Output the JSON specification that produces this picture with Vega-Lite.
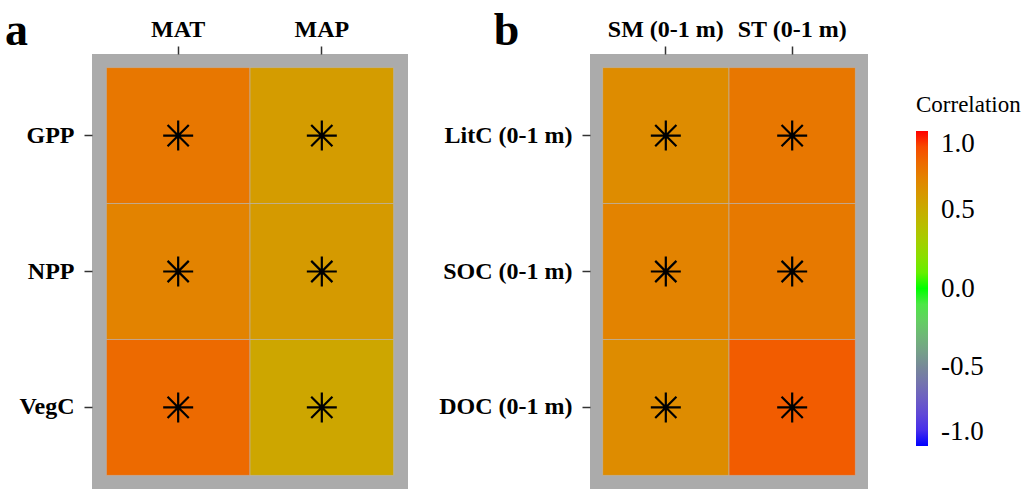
{
  "$schema": "https://vega.github.io/schema/vega-lite/v6.json",
  "background": "white",
  "padding": {"left": 4, "top": 8, "right": 5, "bottom": 0},
  "config": {
    "font": "Liberation Serif",
    "view": {"fill": "#ABABAB", "stroke": null},
    "concat": {"spacing": 30},
    "axis": {
      "labelFont": "Liberation Serif",
      "labelFontSize": 24,
      "labelFontWeight": "bold",
      "labelColor": "black",
      "tickColor": "#333333",
      "tickWidth": 1.5,
      "tickSize": 8,
      "domain": false,
      "grid": false,
      "labelAngle": 0
    },
    "legend": {"labelFont": "'Liberation Serif', 'DejaVu Serif', serif", "titleFont": "'Liberation Serif', 'DejaVu Serif', serif"},
    "title": {"font": "Liberation Serif", "fontSize": 46, "fontWeight": "bold", "color": "black", "anchor": "start"}
  },
  "datasets": {
    "a": [
      {"variable": "GPP", "driver": "MAT", "r": 0.75, "sig": "*"},
      {"variable": "GPP", "driver": "MAP", "r": 0.58, "sig": "*"},
      {"variable": "NPP", "driver": "MAT", "r": 0.70, "sig": "*"},
      {"variable": "NPP", "driver": "MAP", "r": 0.59, "sig": "*"},
      {"variable": "VegC", "driver": "MAT", "r": 0.80, "sig": "*"},
      {"variable": "VegC", "driver": "MAP", "r": 0.53, "sig": "*"}
    ],
    "b": [
      {"variable": "LitC (0-1 m)", "driver": "SM (0-1 m)", "r": 0.66, "sig": "*"},
      {"variable": "LitC (0-1 m)", "driver": "ST (0-1 m)", "r": 0.75, "sig": "*"},
      {"variable": "SOC (0-1 m)", "driver": "SM (0-1 m)", "r": 0.70, "sig": "*"},
      {"variable": "SOC (0-1 m)", "driver": "ST (0-1 m)", "r": 0.74, "sig": "*"},
      {"variable": "DOC (0-1 m)", "driver": "SM (0-1 m)", "r": 0.66, "sig": "*"},
      {"variable": "DOC (0-1 m)", "driver": "ST (0-1 m)", "r": 0.85, "sig": "*"}
    ]
  },
  "hconcat": [
    {
      "width": 316,
      "height": 435,
      "data": {"name": "a"},
      "title": {"text": "a", "dx": -14, "dy": 42},
      "encoding": {
        "x": {"field": "driver", "type": "nominal", "sort": ["MAT", "MAP"], "scale": {"paddingInner": 0, "paddingOuter": 0.1}, "axis": {"orient": "top", "title": null, "labelPadding": 5}},
        "y": {"field": "variable", "type": "nominal", "sort": ["GPP", "NPP", "VegC"], "scale": {"paddingInner": 0, "paddingOuter": 0.1}, "axis": {"title": null, "labelPadding": 10}}
      },
      "layer": [
        {
          "mark": {"type": "rect", "stroke": "#b8b8b8", "strokeWidth": 0.6},
          "encoding": {
            "color": {"field": "r", "type": "quantitative", "scale": {"domain": [-1, -0.5, 0, 1], "range": ["#0000ff", "#778899", "#00ff00", "#ff0000"], "interpolate": "lab"}, "legend": {"title": "Correlation", "orient": "none", "legendX": 824, "legendY": 40, "values": [-1, -0.5, 0, 0.5, 1], "labelExpr": "datum.value < 0 ? '-' + format(-datum.value, '.1f') : format(datum.value, '.1f')", "titleFontSize": 23, "titleFontWeight": "normal", "titleColor": "black", "labelFontSize": 27, "labelColor": "black", "gradientLength": 315, "gradientThickness": 12, "labelOverlap": false, "labelOffset": 13, "titlePadding": 14}}
          }
        },
        {
          "transform": [{"filter": "datum.sig == '*'"}],
          "mark": {"type": "point", "shape": "M0,-1L0,1M-1,0L1,0M-0.707,-0.707L0.707,0.707M-0.707,0.707L0.707,-0.707", "stroke": "black", "strokeWidth": 2.2, "size": 900, "filled": false, "opacity": 1}
        }
      ]
    },
    {
      "width": 278,
      "height": 435,
      "data": {"name": "b"},
      "title": {"text": "b", "dx": 55, "dy": 42},
      "encoding": {
        "x": {"field": "driver", "type": "nominal", "sort": ["SM (0-1 m)", "ST (0-1 m)"], "scale": {"paddingInner": 0, "paddingOuter": 0.1}, "axis": {"orient": "top", "title": null, "labelPadding": 5}},
        "y": {"field": "variable", "type": "nominal", "sort": ["LitC (0-1 m)", "SOC (0-1 m)", "DOC (0-1 m)"], "scale": {"paddingInner": 0, "paddingOuter": 0.1}, "axis": {"title": null, "labelPadding": 10}}
      },
      "layer": [
        {
          "mark": {"type": "rect", "stroke": "#b8b8b8", "strokeWidth": 0.6},
          "encoding": {
            "color": {"field": "r", "type": "quantitative", "scale": {"domain": [-1, -0.5, 0, 1], "range": ["#0000ff", "#778899", "#00ff00", "#ff0000"], "interpolate": "lab"}}
          }
        },
        {
          "transform": [{"filter": "datum.sig == '*'"}],
          "mark": {"type": "point", "shape": "M0,-1L0,1M-1,0L1,0M-0.707,-0.707L0.707,0.707M-0.707,0.707L0.707,-0.707", "stroke": "black", "strokeWidth": 2.2, "size": 900, "filled": false, "opacity": 1}
        }
      ]
    }
  ],
  "resolve": {"scale": {"color": "shared"}}
}
